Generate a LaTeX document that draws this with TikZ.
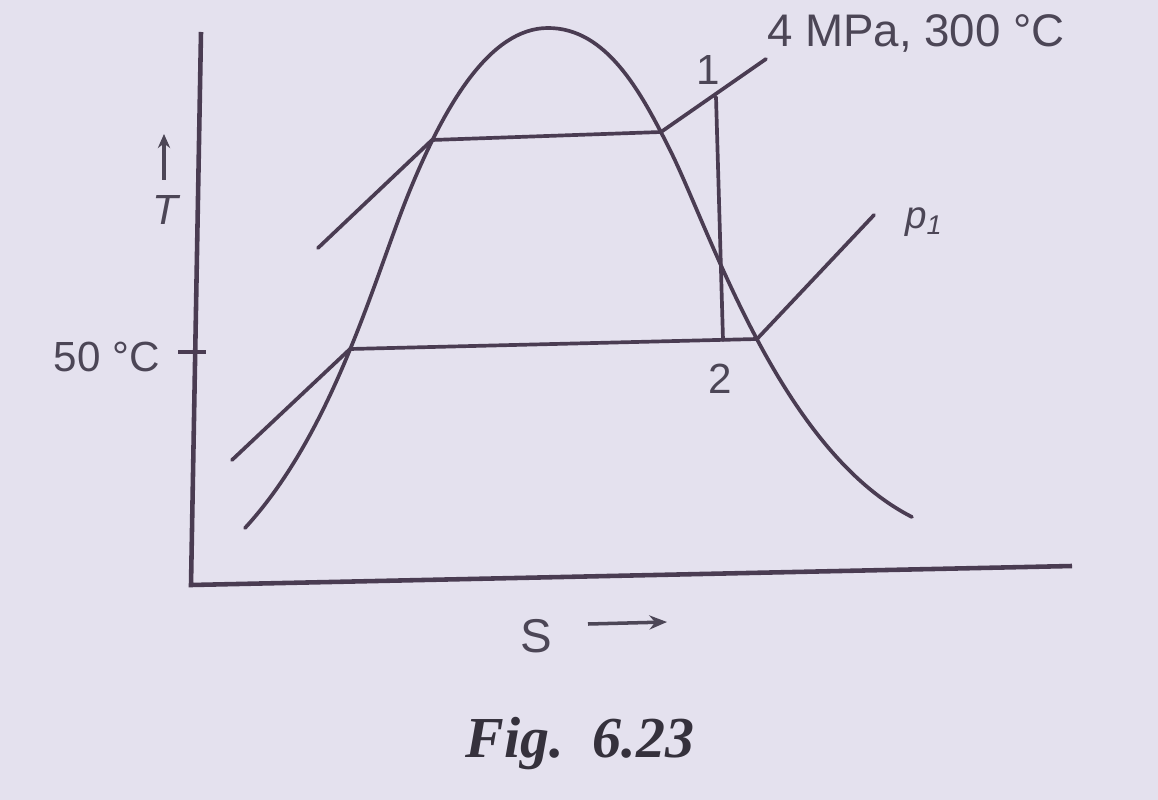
\documentclass[tikz,border=0pt]{standalone}
\usepackage{fontspec}
\setmainfont{Liberation Sans}
\newfontfamily\figfont{Liberation Serif}
\usetikzlibrary{arrows.meta}
\definecolor{paper}{HTML}{E4E1EE}
\definecolor{ink}{HTML}{4A3C52}
\definecolor{txt}{HTML}{4C4656}
\tikzset{
  curve/.style={draw=ink, line width=2.1pt, line cap=round, line join=round},
  axis/.style={draw=ink, line width=2.6pt},
  lbl/.style={text=txt, font=\fontsize{24}{28}\selectfont, inner sep=1pt},
}
\begin{document}
\begin{tikzpicture}[x=0.02cm, y=-0.02cm]
\fill[paper] (0,0) rectangle (1158,800);
\useasboundingbox (0,0) rectangle (1158,800);
% axes
\coordinate (ytop) at (201,32);
\coordinate (orig) at (191,585);
\coordinate (xend) at (1072,566);
\draw[axis] (ytop) -- (orig) -- (xend);
% tick at 50 C
\coordinate (tkL) at (178,352);
\coordinate (tkR) at (206,352);
\draw[axis, line width=2pt] (tkL) -- (tkR);
\node[lbl, anchor=east] (t50) at (162,357) {50 °C};
% T label with arrow
\node[lbl, font=\fontsize{24}{28}\selectfont\itshape] (T) at (165,210) {T};
\coordinate (tA) at (164,180);
\coordinate (tB) at (164,134);
\draw[draw=txt, line width=2pt, -{Stealth[length=8pt,width=7pt]}] (tA) -- (tB);
% saturation dome
\coordinate (d0) at (245,528);
\coordinate (d1) at (410,190);
\coordinate (d2) at (548,28);
\coordinate (d3) at (670,150);
\coordinate (d4) at (912,517);
\draw[curve] (d0) .. controls (335,430) and (375,275) .. (d1)
  .. controls (445,105) and (490,28) .. (d2)
  .. controls (606,28) and (640,90) .. (d3)
  .. controls (710,230) and (780,450) .. (d4);
% upper isobar 4 MPa
\coordinate (u0) at (318,248);
\coordinate (u1) at (432,140);
\coordinate (u2) at (661,132);
\coordinate (u3) at (766,59);
\draw[curve] (u0) -- (u1) -- (u2) -- (u3);
% lower isobar p1
\coordinate (l0) at (232,460);
\coordinate (l1) at (350,349);
\coordinate (l2) at (757,339);
\coordinate (l3) at (874,215);
\draw[curve] (l0) -- (l1) -- (l2) -- (l3);
% expansion 1-2
\coordinate (p1) at (716,97);
\coordinate (p2) at (723,340);
\draw[curve] (p1) -- (p2);
% labels
\node[lbl] (n1) at (708,70) {1};
\node[lbl] (n2) at (720,379) {2};
\node[lbl, anchor=west, font=\fontsize{26}{30}\selectfont] (hp) at (765,33) {4 MPa, 300 °C};
\node[lbl, anchor=west, font=\fontsize{22}{26}\selectfont\itshape] (lp) at (903,222) {p\textsubscript{1}};
% S axis label
\node[lbl, font=\fontsize{27}{30}\selectfont] (S) at (536,636) {S};
\coordinate (sA) at (588,624);
\coordinate (sB) at (667,622);
\draw[draw=txt, line width=2pt, -{Stealth[length=10pt,width=8pt]}] (sA) -- (sB);
% caption
\node[text=txt!70!black, font=\figfont\bfseries\itshape\fontsize{33}{36}\selectfont] (cap) at (580,744) {Fig.\ \ 6.23};
\end{tikzpicture}
\end{document}
